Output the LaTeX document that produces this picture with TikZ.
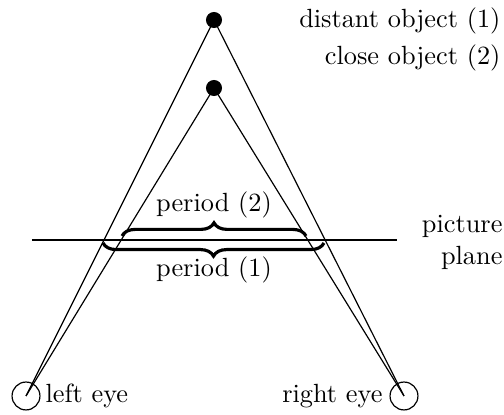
\documentclass[tikz,border=0pt]{standalone}
\usetikzlibrary{decorations.pathreplacing}
\begin{document}
\begin{tikzpicture}[x=0.38pt,y=-0.38pt,
  ray/.style={line width=0.45pt},
  obj/.style={circle,fill=black,inner sep=0pt,minimum size=6.1pt},
  eye/.style={circle,draw,line width=0.45pt,inner sep=0pt,minimum size=10.6pt},
  lbl/.style={inner sep=0pt},
  bracebar/.style={decorate,decoration={brace,amplitude=5pt},line width=1.2pt}]
\useasboundingbox (0,0) rectangle (504,415);
\node[obj] (d) at (214,20) {};
\node[obj] (c) at (214,88) {};
\node[eye] (le) at (26,396) {};
\node[eye] (re) at (404,396) {};
\draw[ray] (le.center) -- (d.center) -- (re.center);
\draw[ray] (le.center) -- (c.center) -- (re.center);
\coordinate (pl) at (32,240);
\coordinate (pr) at (397,240);
\draw[line width=0.6pt] (pl) -- (pr);
\coordinate (b2l) at (122,236);
\coordinate (b2r) at (306,236);
\coordinate (b1l) at (103,243);
\coordinate (b1r) at (324,243);
\draw[bracebar] (b2l) -- (b2r);
\draw[bracebar] (b1r) -- (b1l);
\node[lbl,anchor=base] (p2) at (214,212) {period (2)};
\node[lbl,anchor=base] (p1) at (214,277) {period (1)};
\node[lbl,anchor=base east] (dl) at (501,28) {distant object (1)};
\node[lbl,anchor=base east] (cl) at (501,65) {close object (2)};
\node[lbl,anchor=base east] (pp1) at (503,233) {picture};
\node[lbl,anchor=base east] (pp2) at (503,265) {plane};
\node[lbl,anchor=base west] (lel) at (45,403) {left eye};
\node[lbl,anchor=base east] (rel) at (383,403) {right eye};
\end{tikzpicture}
\end{document}
